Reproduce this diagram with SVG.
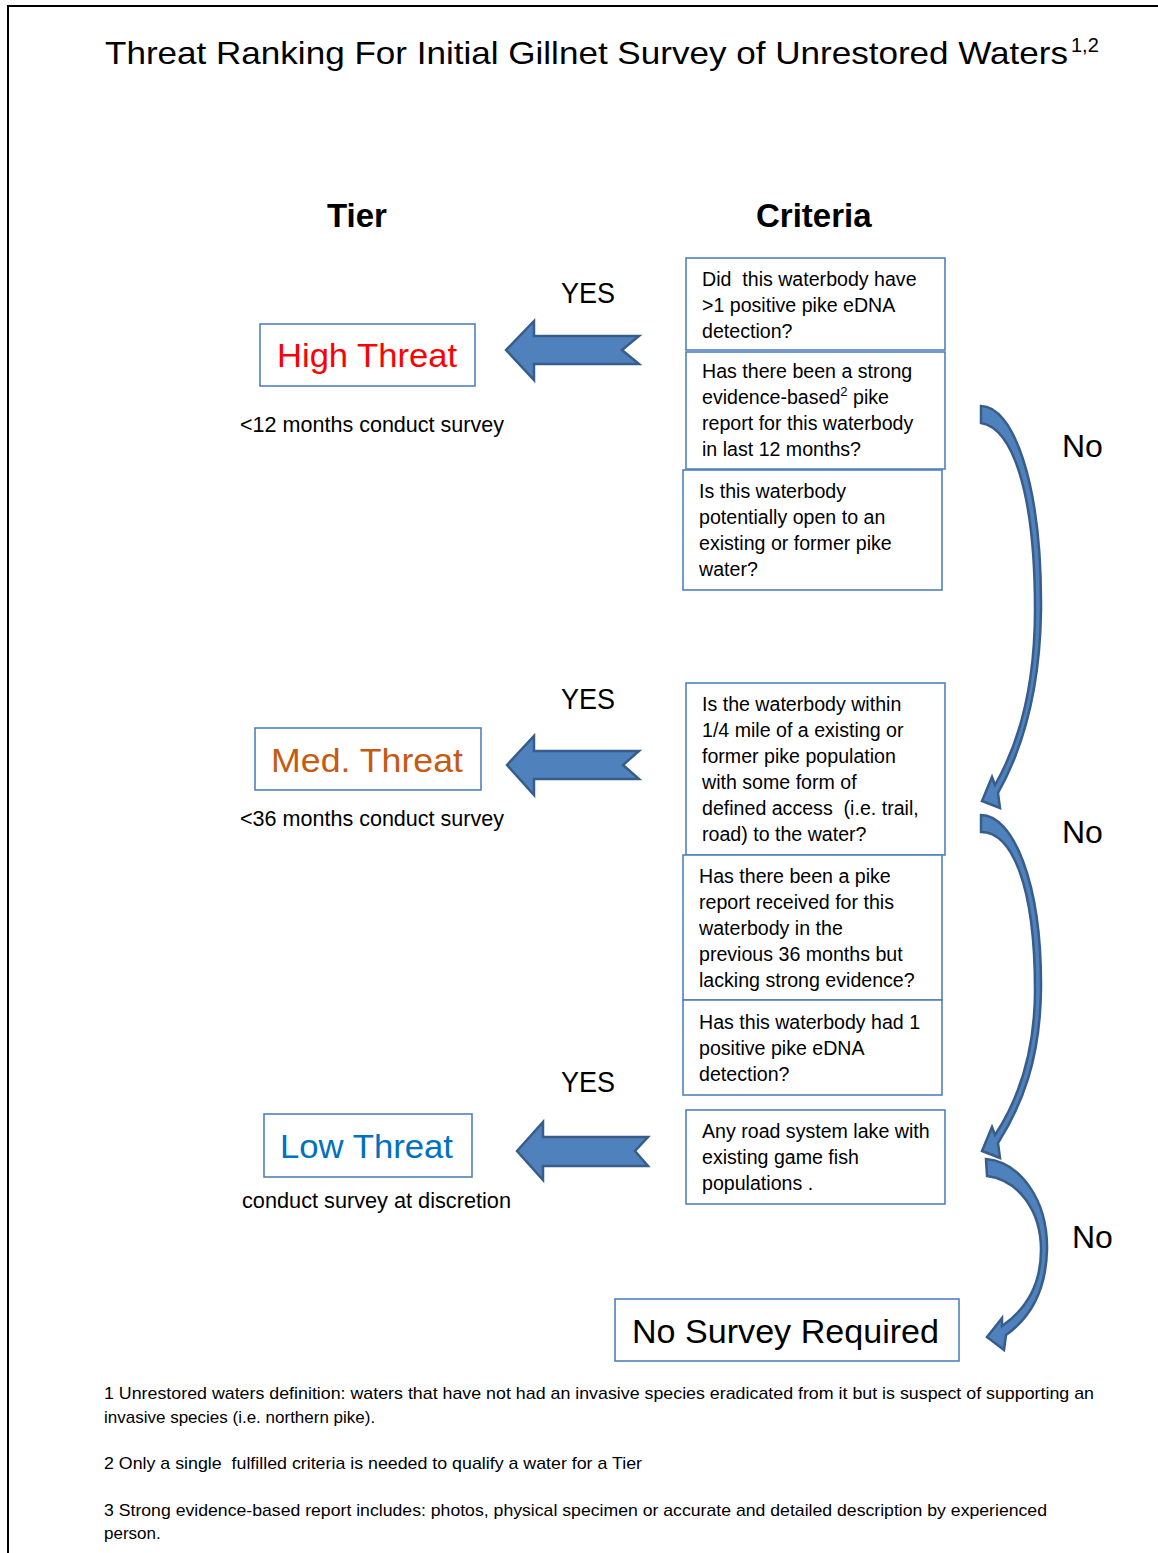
<svg xmlns="http://www.w3.org/2000/svg" width="1158" height="1553" viewBox="0 0 1158 1553">
<style>
text{font-family:"Liberation Sans",Arial,sans-serif;fill:#000}
.box{fill:#fff;stroke:#4F81BD;stroke-width:1.6}
.crit{font-size:19.6px;white-space:pre}
.sub{font-size:21.5px}
.big{font-size:34px}
.hdr{font-size:33px;font-weight:bold}
.yes{font-size:29px}
.no{font-size:32px}
.fn{font-size:17px}
.arr{fill:#4F81BD;stroke:#385D8A;stroke-width:2.5;stroke-linejoin:miter}
</style>
<rect x="0" y="0" width="1158" height="1553" fill="#fff"/>
<g id="frame" fill="none" stroke="#000" stroke-width="2">
<path d="M8,1553 V6 H1158"/>
</g>
<g id="title">
<text x="105" y="64" font-size="32" textLength="963" lengthAdjust="spacingAndGlyphs">Threat Ranking For Initial Gillnet Survey of Unrestored Waters</text>
<text x="1071" y="52" font-size="20">1,2</text>
</g>
<g id="headers">
<text class="hdr" x="327" y="227">Tier</text>
<text class="hdr" x="756" y="227">Criteria</text>
</g>
<g id="tier-high">
<rect class="box" x="260" y="324" width="215" height="62"/>
<text class="big" x="277" y="367" style="fill:#FF0000" textLength="180" lengthAdjust="spacingAndGlyphs">High Threat</text>
<text class="sub" x="240" y="432" textLength="264" lengthAdjust="spacingAndGlyphs">&lt;12 months conduct survey</text>
</g>
<g id="tier-med">
<rect class="box" x="255" y="728" width="226" height="62"/>
<text class="big" x="271" y="772" style="fill:#C55A11" textLength="192" lengthAdjust="spacingAndGlyphs">Med. Threat</text>
<text class="sub" x="240" y="826" textLength="264" lengthAdjust="spacingAndGlyphs">&lt;36 months conduct survey</text>
</g>
<g id="tier-low">
<rect class="box" x="264" y="1114" width="208" height="63"/>
<text class="big" x="280" y="1158" style="fill:#0070C0" textLength="173" lengthAdjust="spacingAndGlyphs">Low Threat</text>
<text class="sub" x="242" y="1208" textLength="269" lengthAdjust="spacingAndGlyphs">conduct survey at discretion</text>
</g>
<g id="no-survey">
<rect class="box" x="615" y="1299" width="344" height="62"/>
<text class="big" x="632" y="1343" textLength="307" lengthAdjust="spacingAndGlyphs">No Survey Required</text>
</g>
<g id="crit-1">
<rect class="box" x="686" y="258" width="259" height="92"/>
<text class="crit" x="702" y="286">Did  this waterbody have</text>
<text class="crit" x="702" y="312">&gt;1 positive pike eDNA</text>
<text class="crit" x="702" y="338">detection?</text>
</g>
<g id="crit-2">
<rect class="box" x="686" y="352" width="259" height="117"/>
<text class="crit" x="702" y="378">Has there been a strong</text>
<text class="crit" x="702" y="404">evidence-based<tspan font-size="13" dy="-8">2</tspan><tspan dy="8"> pike</tspan></text>
<text class="crit" x="702" y="430">report for this waterbody</text>
<text class="crit" x="702" y="456">in last 12 months?</text>
</g>
<g id="crit-3">
<rect class="box" x="683" y="470" width="259" height="120"/>
<text class="crit" x="699" y="498">Is this waterbody</text>
<text class="crit" x="699" y="524">potentially open to an</text>
<text class="crit" x="699" y="550">existing or former pike</text>
<text class="crit" x="699" y="576">water?</text>
</g>
<g id="crit-4">
<rect class="box" x="686" y="683" width="259" height="172"/>
<text class="crit" x="702" y="711">Is the waterbody within</text>
<text class="crit" x="702" y="737">1/4 mile of a existing or</text>
<text class="crit" x="702" y="763">former pike population</text>
<text class="crit" x="702" y="789">with some form of</text>
<text class="crit" x="702" y="815">defined access  (i.e. trail,</text>
<text class="crit" x="702" y="841">road) to the water?</text>
</g>
<g id="crit-5">
<rect class="box" x="683" y="855" width="259" height="145"/>
<text class="crit" x="699" y="883">Has there been a pike</text>
<text class="crit" x="699" y="909">report received for this</text>
<text class="crit" x="699" y="935">waterbody in the</text>
<text class="crit" x="699" y="961">previous 36 months but</text>
<text class="crit" x="699" y="987">lacking strong evidence?</text>
</g>
<g id="crit-6">
<rect class="box" x="683" y="1000" width="259" height="95"/>
<text class="crit" x="699" y="1029">Has this waterbody had 1</text>
<text class="crit" x="699" y="1055">positive pike eDNA</text>
<text class="crit" x="699" y="1081">detection?</text>
</g>
<g id="crit-7">
<rect class="box" x="686" y="1110" width="259" height="94"/>
<text class="crit" x="702" y="1138">Any road system lake with</text>
<text class="crit" x="702" y="1164">existing game fish</text>
<text class="crit" x="702" y="1190">populations .</text>
</g>
<g id="connectors">
<path class="arr" d="M506,350 L534,321 L534,336 L639,336 L622,350 L639,364 L534,364 L534,380 Z"/>
<path class="arr" d="M507,765 L534,736 L534,751 L639,751 L623,765 L639,779 L534,779 L534,795 Z"/>
<path class="arr" d="M517,1151 L543,1122 L543,1137 L648,1137 L635,1151 L648,1166 L543,1166 L543,1180 Z"/>
<path class="arr" d="M981,406 C1012,406 1042,480 1041,610 C1040,690 1022,750 998,793 L1000,808 L982,801 L992,777 L995,785 C1018,745 1035,690 1035,610 C1035,490 1012,428 981,423 Z"/>
<path class="arr" d="M981,815 C1012,815 1042,880 1041,990 C1040,1060 1022,1105 998,1143 L1000,1158 L982,1151 L992,1127 L995,1135 C1018,1100 1035,1055 1035,990 C1035,885 1012,832 981,832 Z"/>
<path class="arr" d="M986,1159 C1020,1162 1048,1200 1047,1250 C1046,1290 1030,1318 1006,1335 L1004,1350 L987,1337 L1002,1318 L1002,1326 C1025,1310 1041,1285 1041,1250 C1041,1210 1018,1180 987,1176 Z"/>
</g>
<g id="labels">
<text class="yes" x="561" y="303" textLength="54" lengthAdjust="spacingAndGlyphs">YES</text>
<text class="yes" x="561" y="709" textLength="54" lengthAdjust="spacingAndGlyphs">YES</text>
<text class="yes" x="561" y="1092" textLength="54" lengthAdjust="spacingAndGlyphs">YES</text>
<text class="no" x="1062" y="457">No</text>
<text class="no" x="1062" y="843">No</text>
<text class="no" x="1072" y="1248">No</text>
</g>
<g id="footnotes">
<text class="fn" x="104" y="1399" textLength="990" lengthAdjust="spacingAndGlyphs">1 Unrestored waters definition: waters that have not had an invasive species eradicated from it but is suspect of supporting an</text>
<text class="fn" x="104" y="1423">invasive species (i.e. northern pike).</text>
<text class="fn" x="104" y="1469" textLength="538" lengthAdjust="spacingAndGlyphs" style="white-space:pre">2 Only a single  fulfilled criteria is needed to qualify a water for a Tier</text>
<text class="fn" x="104" y="1516" textLength="943" lengthAdjust="spacingAndGlyphs">3 Strong evidence-based report includes: photos, physical specimen or accurate and detailed description by experienced</text>
<text class="fn" x="104" y="1539">person.</text>
</g>
</svg>
